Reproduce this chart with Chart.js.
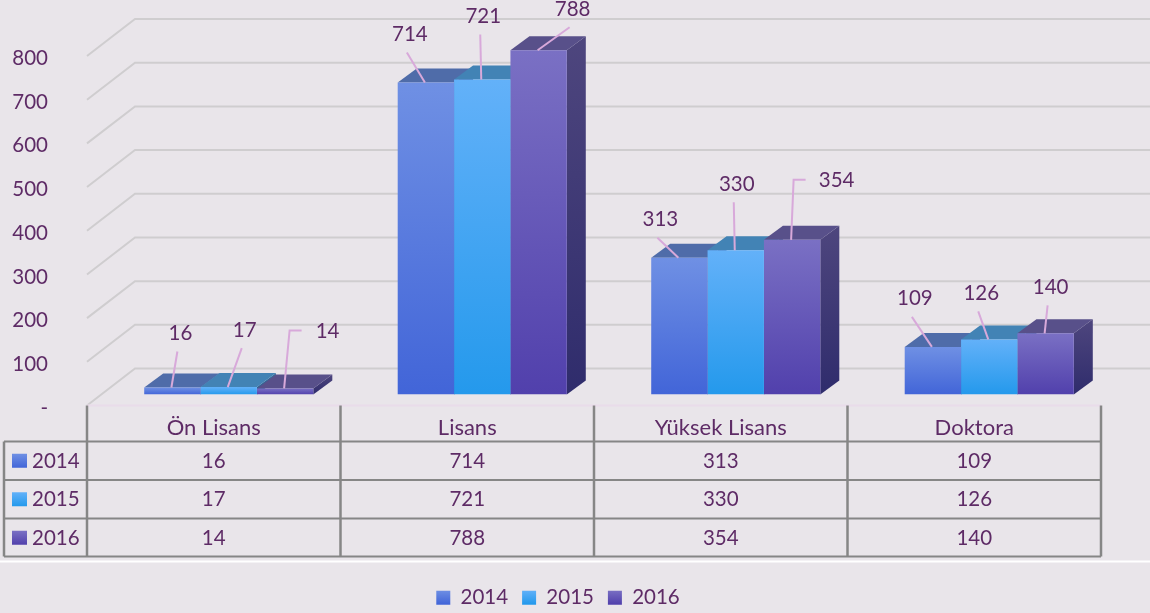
<!DOCTYPE html>
<html><head><meta charset="utf-8">
<style>html,body{margin:0;padding:0;background:#e9e5ea;overflow:hidden}canvas{display:block}</style>
<script src="https://cdn.jsdelivr.net/npm/chart.js@4"></script>
</head><body><canvas id="c" width="1150" height="613"></canvas>
<script>
const categories = ['Ön Lisans','Lisans','Yüksek Lisans','Doktora'];
const years = ['2014','2015','2016'];
const values2014 = [16,714,313,109];
const values2015 = [17,721,330,126];
const values2016 = [14,788,354,140];
const tickStep = 100, axisMax = 800;

const allValues = [values2014,values2015,values2016];
// label placement relative to the top-centre of each bar
const labelDx = [[8,-16,-19,-18],[16,1,1,-8],[42.5,34,44.5,5]];
const labelDy = [[-54,-48,-38,-48],[-57,-63,-66,-46],[-57,-41,-59,-46]];
const elbowLabels = {'2-0':[-26,-37],'2-2':[-31,-43]};

const TXT='#5e2b66', FONT='20.5px Lato', GRID='#cfcdcf', TBL='#868686', LEAD='#d8a9da';
const faces=[
 {front:['#6f90e4','#4265d8'],top:'#4f6ca9',side:['#47568f','#2f3d80']},
 {front:['#63b1f9','#2499ec'],top:'#4283b5',side:['#3a6f9c','#2a5f90']},
 {front:['#7a70c4','#5140ac'],top:'#58508a',side:['#4e467e','#2f2c6c']}
];
const DX=19, DY=14, FLOOR_DX=[-15,33], FLOOR_DY=[11,-26];

function grad(c,y0,y1,cols){
  if(!Number.isFinite(y0)||!Number.isFinite(y1))return cols[0];
  const g=c.createLinearGradient(0,y0,0,y1);g.addColorStop(0,cols[0]);g.addColorStop(1,cols[1]);return g;}

const backdrop={id:'backdrop',beforeDatasetsDraw(chart){
  const c=chart.ctx,y=chart.scales.y,x=chart.scales.x;
  c.save();
  // white rule under the table
  c.fillStyle='#ffffff';c.fillRect(0,560.5,1150,2);
  // wall + floor grid
  c.strokeStyle=GRID;c.lineWidth=2;
  const ax=chart.chartArea.left;
  for(let v=0;v<=axisMax;v+=tickStep){
    const p=y.getPixelForValue(v);
    c.beginPath();c.moveTo(ax+FLOOR_DX[0],p+FLOOR_DY[0]);c.lineTo(ax+FLOOR_DX[1],p+FLOOR_DY[1]);c.lineTo(1150,p+FLOOR_DY[1]);c.stroke();
  }
  // floor front edge
  const p0=y.getPixelForValue(0);
  c.strokeStyle='#e9dcea';c.beginPath();c.moveTo(ax-15,p0+11);c.lineTo(chart.chartArea.right-15,p0+11);c.stroke();
  // 3D faces
  for(let g=0;g<categories.length;g++){
    allValues.forEach((_,d)=>{
      const el=chart.getDatasetMeta(d).data[g],f=faces[d];
      const l=el.x-el.width/2,r=el.x+el.width/2,t=el.y,b=el.base;
      c.fillStyle=grad(c,t-DY,b,f.side);
      c.beginPath();c.moveTo(r,t);c.lineTo(r+DX,t-DY);c.lineTo(r+DX,b-DY);c.lineTo(r,b);c.closePath();c.fill();
      c.fillStyle=f.top;
      c.beginPath();c.moveTo(l,t);c.lineTo(l+DX,t-DY);c.lineTo(r+DX,t-DY);c.lineTo(r,t);c.closePath();c.fill();
    });
  }
  c.restore();
}};

const overlay={id:'overlay',afterDraw(chart){
  const c=chart.ctx,x=chart.scales.x,y=chart.scales.y;
  c.save();
  // leader lines and labels
  c.font=FONT;c.textAlign='center';c.textBaseline='middle';
  allValues.forEach((vals,d)=>{
    vals.forEach((v,g)=>{
      const el=chart.getDatasetMeta(d).data[g];
      const tx=el.x-1,ty=el.y,lx=el.x+labelDx[d][g],ly=el.y+labelDy[d][g];
      c.strokeStyle=LEAD;c.lineWidth=2;c.beginPath();
      const e=elbowLabels[d+'-'+g];
      if(e){c.moveTo(lx+e[0],ly-1);c.lineTo(lx+e[0]-12,ly-1);c.lineTo(tx,ty);}
      else{c.moveTo(lx-3,ly+18);c.lineTo(tx,ty);}
      c.stroke();
      c.fillStyle=TXT;c.fillText(String(v),lx,ly);
    });
  });
  // data table
  const half=(x.getPixelForValue(1)-x.getPixelForValue(0))/2,off=-15;
  const edge=i=>x.getPixelForValue(0)-half+off+i*half*2;
  const rows=[441.5,480,518.5,556.5],rowH=rows[1]-rows[0];
  c.strokeStyle=TBL;c.lineWidth=2;
  rows.forEach(r=>{c.beginPath();c.moveTo(4,r);c.lineTo(edge(categories.length),r);c.stroke();});
  c.lineWidth=2.5;
  for(let i=0;i<=categories.length;i++){c.beginPath();c.moveTo(edge(i),y.getPixelForValue(0)+11);c.lineTo(edge(i),rows[3]);c.stroke();}
  c.beginPath();c.moveTo(4,rows[0]);c.lineTo(4,rows[3]);c.stroke();
  years.forEach((yr,d)=>{
    const cy=rows[d]+rowH/2;
    c.fillStyle=grad(c,cy-7,cy+7,faces[d].front);c.fillRect(12,cy-7,15,14);
    c.fillStyle=TXT;c.textAlign='left';c.fillText(yr,32,cy+0.5);
    c.textAlign='center';
    allValues[d].forEach((v,g)=>c.fillText(String(v),(edge(g)+edge(g+1))/2,cy+0.5));
  });
  c.restore();
}};

new Chart(document.getElementById('c'),{
  type:'bar',
  data:{labels:categories,datasets:allValues.map((vals,d)=>({
    label:years[d],data:vals,
    categoryPercentage:0.667,barPercentage:1,
    borderWidth:0,
    backgroundColor(ctx){
      if(ctx.type!=='data'||!ctx.parsed)return faces[d].front[0];
      const s=ctx.chart.scales.y;
      return grad(ctx.chart.ctx,s.getPixelForValue(ctx.parsed.y),s.getPixelForValue(0),faces[d].front);
    }
  }))},
  options:{
    responsive:false,animation:false,
    layout:{padding:{top:45,right:34,left:0,bottom:-5}},
    plugins:{
      tooltip:{enabled:false},
      legend:{position:'bottom',labels:{
        boxWidth:14,boxHeight:14,padding:14,color:TXT,font:{family:'Lato',size:20.5},
        generateLabels(chart){
          return years.map((yr,d)=>({text:yr,datasetIndex:d,fontColor:TXT,lineWidth:0,strokeStyle:'transparent',
            fillStyle:grad(chart.ctx,590,604,faces[d].front)}));
        }}}
    },
    scales:{
      x:{grid:{display:false,drawTicks:false},border:{display:false},
        afterFit(s){s.height=179;},
        ticks:{color:TXT,font:{family:'Lato',size:22},padding:20.5,labelOffset:-15,maxRotation:0,autoSkip:false}},
      y:{min:0,max:axisMax,grid:{display:false,drawTicks:false},border:{display:false},
        afterFit(s){s.width=102;s.paddingTop=0;s.paddingBottom=0;},
        ticks:{stepSize:tickStep,color:TXT,font:{family:'Lato',size:20.5},padding:54,labelOffset:13.5,
          callback(v){return v===0?'-':String(v);}}}
    }
  },
  plugins:[backdrop,overlay]
});
</script></body></html>
